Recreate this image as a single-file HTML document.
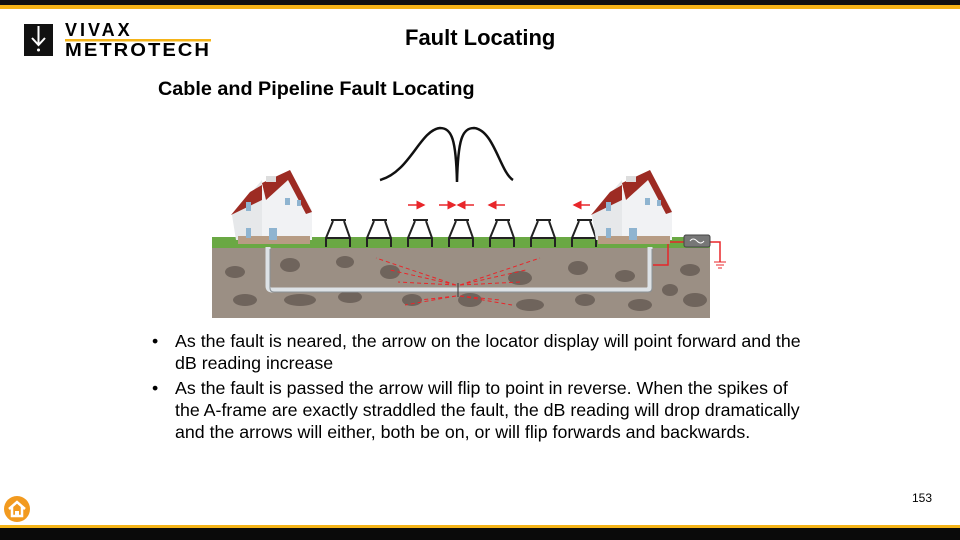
<!DOCTYPE html>
<html><head><meta charset="utf-8"><style>
html,body{margin:0;padding:0}
body{width:960px;height:540px;position:relative;overflow:hidden;background:#fff;font-family:"Liberation Sans",Arial,sans-serif;color:#000}
.t{position:absolute;white-space:nowrap}
</style></head><body>
<div style="position:absolute;left:0;top:0;width:960px;height:5px;background:#111"></div>
<div style="position:absolute;left:0;top:5px;width:960px;height:4px;background:#f5b418"></div>
<div style="position:absolute;left:0;top:525px;width:960px;height:3px;background:#f5b418"></div>
<div style="position:absolute;left:0;top:528px;width:960px;height:12px;background:#0a0a0a"></div>
<!-- logo -->
<svg style="position:absolute;left:24px;top:20px" width="200" height="40">
<rect x="0" y="4" width="29" height="32" fill="#111"/>
<line x1="14.5" y1="6" x2="14.5" y2="24" stroke="#fff" stroke-width="2"/>
<polyline points="8,18 14.5,25 21,18" fill="none" stroke="#fff" stroke-width="2"/>
<circle cx="14.5" cy="30" r="1.5" fill="#fff"/>
<text x="41" y="16" font-size="18" font-weight="bold" font-family="Liberation Sans" letter-spacing="3">VIVAX</text>
<rect x="41" y="19" width="146" height="2.5" fill="#f5b418"/>
<text x="41" y="36" font-size="18" font-weight="bold" font-family="Liberation Sans" letter-spacing="1.8" textLength="146" lengthAdjust="spacingAndGlyphs">METROTECH</text>
</svg>
<div class="t" style="left:405px;top:25px;font-size:22px;font-weight:bold">Fault Locating</div>
<div class="t" style="left:158px;top:78px;font-size:19.8px;font-weight:bold">Cable and Pipeline Fault Locating</div>
<!-- diagram -->
<svg style="position:absolute;left:0;top:0" width="960" height="540">
<defs><marker id="ah" markerWidth="6" markerHeight="6" refX="5" refY="3" orient="auto"><path d="M0,0L6,3L0,6z" fill="#e8262a"/></marker></defs>
<rect x="212" y="247" width="498" height="71" fill="#9b8f84"/>
<rect x="212" y="237" width="498" height="11" fill="#6aa844"/>
<g fill="#6f645c">
<ellipse cx="235" cy="272" rx="10" ry="6"/><ellipse cx="290" cy="265" rx="10" ry="7"/><ellipse cx="245" cy="300" rx="12" ry="6"/>
<ellipse cx="300" cy="300" rx="16" ry="6"/><ellipse cx="345" cy="262" rx="9" ry="6"/><ellipse cx="350" cy="297" rx="12" ry="6"/>
<ellipse cx="390" cy="272" rx="10" ry="7"/><ellipse cx="412" cy="300" rx="10" ry="6"/><ellipse cx="470" cy="300" rx="12" ry="7"/>
<ellipse cx="520" cy="278" rx="12" ry="7"/><ellipse cx="530" cy="305" rx="14" ry="6"/><ellipse cx="578" cy="268" rx="10" ry="7"/>
<ellipse cx="585" cy="300" rx="10" ry="6"/><ellipse cx="625" cy="276" rx="10" ry="6"/><ellipse cx="640" cy="305" rx="12" ry="6"/>
<ellipse cx="690" cy="270" rx="10" ry="6"/><ellipse cx="695" cy="300" rx="12" ry="7"/><ellipse cx="670" cy="290" rx="8" ry="6"/>
</g>
<path d="M268,247V286Q268,290 272,290H646Q650,290 650,286V247" fill="none" stroke="#dde2e6" stroke-width="5"/>
<path d="M268,247V286Q268,290 272,290H646Q650,290 650,286V247" fill="none" stroke="#8a9196" stroke-width="1" transform="translate(2,2)"/>
<g fill="none" stroke="#222" stroke-width="2">
<g id="fr"><path d="M331,220H346M333,221L326,238V247M344,221L350,238V247M326,238H350"/></g>
<use href="#fr" x="41"/><use href="#fr" x="82"/><use href="#fr" x="123"/><use href="#fr" x="164"/><use href="#fr" x="205"/><use href="#fr" x="246"/>
</g>
<path d="M380,180C410,172 420,130 440,128C452,128 456,140 457,182M457,182C458,140 462,128 474,128C494,130 500,172 513,180" fill="none" stroke="#111" stroke-width="2.5"/>
<g stroke="#e8262a" stroke-width="1.5" marker-end="url(#ah)">
<line x1="408" y1="205" x2="424" y2="205"/><line x1="439" y1="205" x2="455" y2="205"/>
<line x1="474" y1="205" x2="458" y2="205"/><line x1="505" y1="205" x2="489" y2="205"/><line x1="590" y1="205" x2="574" y2="205"/>
</g>
<g stroke="#e8262a" stroke-width="1" stroke-dasharray="4,3">
<path d="M456,285L376,258M456,285L390,270M456,285L398,282M460,285L540,258M460,285L526,270M460,285L520,282M456,296L405,305M460,296L512,305M456,296L420,300M460,296L500,300"/>
</g>
<line x1="458" y1="283" x2="458" y2="297" stroke="#333" stroke-width="1"/>
<path d="M653,265H668V242H684M710,242H720V262" fill="none" stroke="#e8262a" stroke-width="1.5"/>
<rect x="684" y="235" width="26" height="12" rx="2" fill="#777" stroke="#444"/>
<path d="M690,241q3,-4 7,0t7,0" fill="none" stroke="#fff"/>
<path d="M714,262H726M716,265H724M718,268H722" stroke="#e8262a"/>
<g id="hs">
<path d="M240,205L290,170L312,210V240H240Z" fill="#f1f2f4"/>
<path d="M232,215L262,180V240H236Z" fill="#e6e8ea"/>
<path d="M262,183L290,170L312,212L306,214L288,180L266,200Z" fill="#9d2b23"/>
<path d="M231,215L250,192L262,185L262,200Z" fill="#9d2b23"/>
<rect x="266" y="176" width="10" height="6" fill="#ddd"/>
<rect x="238" y="236" width="72" height="8" fill="#b79c84"/>
<g fill="#8fb4d0"><rect x="269" y="228" width="8" height="12"/><rect x="285" y="198" width="5" height="7"/><rect x="297" y="200" width="4" height="6"/><rect x="246" y="202" width="5" height="9"/><rect x="246" y="228" width="5" height="10"/></g>
</g>
<use href="#hs" x="360"/>
</svg>
<div class="t" style="left:152px;top:330px;font-size:17.8px;line-height:22px">•</div>
<div class="t" style="left:175px;top:330px;font-size:17.8px;line-height:22px">As the fault is neared, the arrow on the locator display will point forward and the<br>dB reading increase</div>
<div class="t" style="left:152px;top:377px;font-size:17.8px;line-height:22px">•</div>
<div class="t" style="left:175px;top:377px;font-size:17.8px;line-height:22px">As the fault is passed the arrow will flip to point in reverse. When the spikes of<br>the A-frame are exactly straddled the fault, the dB reading will drop dramatically<br>and the arrows will either, both be on, or will flip forwards and backwards.</div>
<div class="t" style="left:912px;top:491px;font-size:12px">153</div>
<svg style="position:absolute;left:2px;top:494px" width="30" height="30">
<circle cx="15" cy="15" r="13" fill="#f29a1f"/>
<path d="M7,15L15,8L23,15M10,13V22H20V13" fill="none" stroke="#fff" stroke-width="2.5"/>
<rect x="13" y="17" width="4" height="5" fill="#fff"/>
</svg>
</body></html>
